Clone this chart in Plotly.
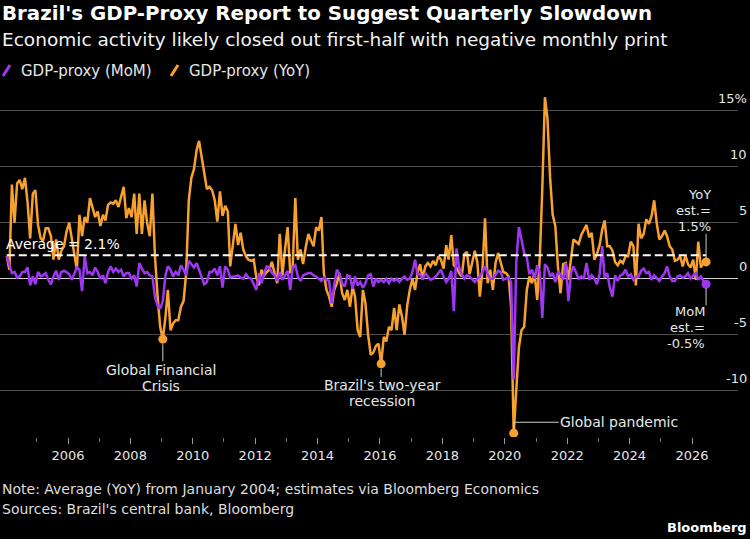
import plotly.graph_objects as go
import pandas as pd

# ---------------- text ----------------
title = "Brazil's GDP-Proxy Report to Suggest Quarterly Slowdown"
subtitle = "Economic activity likely closed out first-half with negative monthly print"
note = "Note: Average (YoY) from January 2004; estimates via Bloomberg Economics"
sources = "Sources: Brazil's central bank, Bloomberg"
mom_name = "GDP-proxy (MoM)"
yoy_name = "GDP-proxy (YoY)"

# ---------------- data ----------------
start_month = "2004-01-01"

yoy = [
    2.0, 0.8, 8.4, 5.0, 8.5, 8.8, 8.0, 9.0, 6.8, 3.6, 7.6, 7.9, 4.8, 3.6, 3.4, 4.5, 4.5, 3.8, 1.7, 3.5,
    1.7, 2.5, 2.9, 4.2, 5.0, 3.4, 2.0, 0.8, 5.7, 3.8, 5.5, 5.0, 7.2, 6.4, 5.5, 6.0, 4.7, 5.7, 5.2, 6.6,
    6.8, 6.7, 7.0, 6.4, 7.2, 8.2, 5.4, 6.3, 5.5, 7.6, 4.0, 7.6, 4.0, 7.0, 5.0, 3.8, 7.6, 2.0, -1.6, -4.3,
    -5.4, -3.4, -1.0, -4.6, -4.0,
    -3.7, -3.7, -2.5, -2.0, 0.5, 7.0, 9.0, 9.8, 11.5, 12.3, 10.9, 9.2, 8.0, 8.2, 7.9, 7.0, 5.1, 7.8, 5.6, 6.5,
    6.0, 1.1, 2.9, 4.9, 3.0, 4.1, 2.6, 2.0, 1.7, 1.6, 1.7, 0.1, -0.6, 0.8, 0.3, 0.6, 0.8, 1.5, 0.5, -0.4,
    4.0, 0.3, 2.6, 4.6, 0.5, 1.1, 7.2, 1.7, 2.6, 1.3, 2.8, 4.0, 3.4, 2.9, 4.6, 4.3, 5.5, 0.5, -1.0, -1.6,
    -2.5, -1.0, -0.4, 0.5, -1.3, -1.9, -1.0,
    -2.5, -0.7, -1.6, -4.6, -5.2, -1.0, -2.2, -5.0, -6.8, -6.6, -6.0, -5.8, -7.6, -5.2, -5.6, -4.3, -4.6, -2.6, -4.6, -2.3,
    -3.4, -5.0, -2.4, -1.0, 0.0, -1.0, 0.5, 1.3, 0.0, 1.1, 1.4, 1.1, 1.6, 1.2, 2.0, 1.7, 0.9, 3.0, 1.7, 3.9,
    1.2, 1.0, 0.5, 0.2, 2.2, 2.4, 0.4, 1.4, 2.5, 1.4, -1.6, 0.8, 5.4, -0.4, 0.8, -1.0, 1.4, 2.3, 1.4, 0.6,
    0.5, 0.2, -2.5, -13.8, -9.9, -6.1, -4.6,
    -4.3, -1.0, 0.2, -0.4, 0.5, -1.9, 2.0, 7.9, 16.2, 14.3, 9.0, 5.7, 4.7, 1.0, -1.3, 1.3, 1.4, -0.1, 1.6, 3.5,
    3.3, 3.1, 3.9, 4.4, 4.8, 3.7, 4.1, 1.7, 2.2, 3.0, 4.4, 5.2, 2.9, 2.9, 2.5, 1.5, 1.2, 1.6, 1.4, 2.0,
    2.0, 3.3, 2.9, -0.6, 4.9, 3.6, 4.0, 5.3, 4.9, 5.6, 7.0, 4.9, 3.5, 3.8, 4.3, 3.8, 2.9, 2.6, 1.6, 1.7,
    2.0, 1.1, 2.1, 1.3, 1.0, 1.7, -0.1, 3.3, 1.0, 1.4, 1.5,
]

mom = [
    2.0, 1.2, 0.5, 0.6, 0.1, 0.2, 0.6, 0.6, 1.0, -0.6, 0.2, -0.5, 0.6, 0.2, 0.3, 0.5, -0.1, -0.5, 0.2, 0.7,
    -0.1, 0.6, 0.7, 0.6, 0.4, -0.1, 0.4, 1.0, 0.8, -1.1, 2.0, 0.5, 0.6, 0.3, 1.0, 0.6, 0.0, 0.3, -0.4, 0.6,
    1.1, 0.6, 0.9, 0.6, 0.8, 0.2, 0.5, 0.5, 0.0, 0.3, -0.7, 1.4, 0.9, 0.5, 0.6, 0.3, 0.2, -1.6, -2.4, -2.7,
    -2.0, 0.3, 1.1, 0.8, 0.2, 0.6,
    0.3, 1.2, 0.8, 0.3, 1.6, 1.3, 1.0, 1.4, 0.8, 0.2, -0.5, -0.3, 0.6, 0.6, 0.9, 0.3, 1.1, -0.8, 1.1, 0.8,
    0.1, 0.2, 0.2, 0.3, 0.1, 0.0, 0.4, 0.1, 0.0, -0.5, -1.0, 0.5, -0.4, 0.5, 1.1, 1.0, 0.5, 0.3, -0.2, 0.6,
    -0.1, 0.3, 0.7, -1.0, 1.0, 1.2, 0.2, -0.2, 0.3, 0.4, 0.5, 0.5, 0.3, 0.2, 0.0, -0.2, 0.1, -0.1, -0.2, -2.2,
    -0.5, 0.8, 0.4, -0.4, -0.7, 0.3, 0.2,
    -0.9, 0.2, -0.6, -0.3, -0.8, -0.4, 0.3, 0.4, -0.7, 0.0, -0.3, -0.1, -0.3, 0.0, -0.4, 0.0, -0.2, 0.0, -0.3, 0.0,
    0.2, -0.1, 0.0, 0.6, 1.7, 0.4, 0.4, -0.1, 0.5, 0.2, -0.1, 0.0, 0.2, 0.5, 0.8, 0.2, -0.3, 0.0, 0.7, -2.9,
    2.7, 1.0, 0.4, 0.0, 0.3, 0.2, -0.1, -0.3, 0.0, 0.2, 0.6, 1.1, 0.4, 0.0, 0.0, 0.4, 0.7, 0.6, -0.1, 0.0,
    0.1, -0.3, -9.0, 1.5, 4.6, 3.5, 2.3,
    1.9, 0.4, 0.8, 0.0, 1.2, 0.5, -3.5, 1.3, 1.0, 0.2, 0.5, -0.3, 0.6, 0.4, -0.1, 1.4, -2.0, 0.5, 1.1, 0.5,
    0.0, 0.2, 0.0, 1.4, -0.1, 0.3, 0.0, -0.5, 0.4, 2.9, 0.1, 0.5, -0.8, -1.6, 0.3, -0.2, 0.3, 0.4, 0.8, 0.2,
    0.4, -0.1, 0.2, 0.2, 0.7, 0.9, 0.5, 0.6, -0.1, 0.3, 0.0, -0.2, 0.2, 0.5, 1.1, 0.2, -0.2, -0.2, 0.2, 0.3,
    0.1, 0.2, 0.5, 0.0, 0.3, 0.5, -0.1, 0.2, -0.2, -0.5,
]

yoy_average = 2.1

y_tick_values = [-10, -5, 0, 5, 10, 15]
y_tick_labels = ["-10", "-5", "0", "5", "10", "15%"]
x_tick_years = list(range(2006, 2027, 2))
x_minor_years = list(range(2005, 2026, 2))

# event call-outs: (text lines, month index in the series)
gfc_lines = ["Global Financial", "Crisis"]
gfc_idx = 60
recession_lines = ["Brazil's two-year", "recession"]
recession_idx = 144
pandemic_text = "Global pandemic"
pandemic_idx = 195

assert len(yoy) == len(mom) == 270

dates = pd.date_range(start_month, periods=len(yoy), freq="MS") + pd.Timedelta(days=14)

# ---------------- style ----------------
ORANGE = "#F9A12F"
PURPLE = "#9E37F2"
BG = "#000000"
GRID = "#4d4d4d"
TXT = "#e6e6e6"
FONT = "DejaVu Sans"

W, H = 750, 539
ML, MR, MT, MB = 0, 12, 90, 102
PW, PH = W - ML - MR, H - MT - MB
px_per_unit = 11.2
zero_from_top = 188.7
y_max = zero_from_top / px_per_unit
y_min = y_max - PH / px_per_unit

px_per_year = 31.2
x_2006 = 68.0
x_start = pd.Timestamp("2006-01-01") - pd.Timedelta(days=x_2006 / px_per_year * 365.25)
x_end = pd.Timestamp("2006-01-01") + pd.Timedelta(days=(PW - x_2006) / px_per_year * 365.25)


def pxx(x):
    return (x - ML) / PW


def pxy(y):
    return (H - MB - y) / PH


fig = go.Figure()

fig.add_trace(go.Scatter(x=dates, y=yoy, mode="lines", name=yoy_name,
                         line=dict(color=ORANGE, width=2.5), hoverinfo="skip"))
fig.add_trace(go.Scatter(x=dates, y=mom, mode="lines", name=mom_name,
                         line=dict(color=PURPLE, width=2.5), hoverinfo="skip"))
fig.add_trace(go.Scatter(x=[dates[0], dates[-1]], y=[yoy_average, yoy_average], mode="lines",
                         line=dict(color="#ffffff", width=2, dash="8px,4px"), hoverinfo="skip"))

# highlighted points
fig.add_trace(go.Scatter(
    x=[dates[gfc_idx], dates[recession_idx], dates[pandemic_idx], dates[-1]],
    y=[yoy[gfc_idx], yoy[recession_idx], yoy[pandemic_idx], yoy[-1]],
    mode="markers", marker=dict(color=ORANGE, size=9), hoverinfo="skip"))
fig.add_trace(go.Scatter(x=[dates[-1]], y=[mom[-1]], mode="markers",
                         marker=dict(color=PURPLE, size=9), hoverinfo="skip"))

annotations = []
shapes = []


def txt(text, x, y, xref="paper", yref="paper", size=14, color=TXT, xanchor="left",
        yanchor="middle", xshift=0, yshift=0, bold=False):
    annotations.append(dict(
        text=f"<b>{text}</b>" if bold else text, x=x, y=y, xref=xref, yref=yref,
        showarrow=False, xanchor=xanchor, yanchor=yanchor, xshift=xshift, yshift=yshift,
        font=dict(family=FONT, size=size, color=color)))


def connector(idx, series, y0, y1, x0=0, x1=0):
    shapes.append(dict(type="line", xref="x", yref="y",
                       xsizemode="pixel", xanchor=dates[idx], x0=x0, x1=x1,
                       ysizemode="pixel", yanchor=series[idx], y0=y0, y1=y1,
                       line=dict(color="#cccccc", width=1)))


# titles
txt(title, pxx(0), pxy(14), size=19.8, color="#ffffff", bold=True)
txt(subtitle, pxx(0), pxy(39), size=18.5, color="#f2f2f2")

# legend
shapes.append(dict(type="line", xref="paper", yref="paper", x0=pxx(3), y0=pxy(76), x1=pxx(10), y1=pxy(65),
                   line=dict(color=PURPLE, width=3)))
txt(mom_name, pxx(19), pxy(71), size=15)
shapes.append(dict(type="line", xref="paper", yref="paper", x0=pxx(171), y0=pxy(76), x1=pxx(178), y1=pxy(65),
                   line=dict(color=ORANGE, width=3)))
txt(yoy_name, pxx(187), pxy(71), size=15)

# y tick labels on the right, sitting above the gridlines
for v, lab in zip(y_tick_values, y_tick_labels):
    txt(lab, pxx(749), v, yref="y", xanchor="right", yanchor="bottom", yshift=3, size=13)

# average label
txt(f"Average = {yoy_average}%", dates[0], yoy_average, xref="x", yref="y",
    yanchor="bottom", xshift=-3, yshift=1, color="#ffffff")

# GFC
connector(gfc_idx, yoy, -5, -22)
txt(gfc_lines[0], dates[gfc_idx], yoy[gfc_idx], xref="x", yref="y", xanchor="center", yshift=-31, xshift=-2)
txt(gfc_lines[1], dates[gfc_idx], yoy[gfc_idx], xref="x", yref="y", xanchor="center", yshift=-47, xshift=-2)

# recession
connector(recession_idx, yoy, -5, -13)
txt(recession_lines[0], dates[recession_idx], yoy[recession_idx], xref="x", yref="y", xanchor="center", yshift=-21, xshift=1)
txt(recession_lines[1], dates[recession_idx], yoy[recession_idx], xref="x", yref="y", xanchor="center", yshift=-37, xshift=1)

# pandemic
connector(pandemic_idx, yoy, 4, 11)
connector(pandemic_idx, yoy, 11, 11, 0, 45)
txt(pandemic_text, dates[pandemic_idx], yoy[pandemic_idx], xref="x", yref="y", xanchor="left", yshift=11, xshift=44)

# end estimates
connector(len(yoy) - 1, yoy, 4, 28)
for line, dy in zip(["YoY", "est.=", f"{yoy[-1]:.1f}%"], [67, 51, 35]):
    txt(line, dates[-1], yoy[-1], xref="x", yref="y", xanchor="right", yshift=dy, xshift=7, size=13)
connector(len(mom) - 1, mom, -4, -21)
for line, dy in zip(["MoM", "est.=", f"{mom[-1]:.1f}%"], [-27, -43, -59]):
    txt(line, dates[-1], mom[-1], xref="x", yref="y", xanchor="right", yshift=dy, xshift=1, size=13)

# footer
txt(note, pxx(0), pxy(489), size=14, color="#dddddd")
txt(sources, pxx(0), pxy(509), size=14, color="#dddddd")
txt("Bloomberg", pxx(749), pxy(527), size=13, color="#ffffff", xanchor="right", bold=True)

fig.update_layout(
    width=W, height=H,
    margin=dict(l=ML, r=MR, t=MT, b=MB, pad=0),
    paper_bgcolor=BG, plot_bgcolor=BG,
    showlegend=False,
    font=dict(family=FONT, color=TXT, size=13),
    annotations=annotations, shapes=shapes,
    xaxis=dict(type="date", range=[x_start, x_end], showgrid=False, zeroline=False, showline=False,
               ticks="outside", ticklen=6, tickwidth=1, tickcolor="#9a9a9a",
               tickvals=[f"{y}-01-01" for y in x_tick_years], ticktext=[str(y) for y in x_tick_years],
               tickfont=dict(family=FONT, size=13, color=TXT),
               minor=dict(ticks="outside", ticklen=4, tickcolor="#777777",
                          tickvals=[f"{y}-01-01" for y in x_minor_years], showgrid=False)),
    yaxis=dict(range=[y_min, y_max], showticklabels=False, tickvals=y_tick_values,
               showgrid=True, gridcolor=GRID, gridwidth=1,
               zeroline=True, zerolinecolor="#d0d0d0", zerolinewidth=1, showline=False, ticks=""),
)

fig.write_html("out.html",
               config={"displayModeBar": False, "staticPlot": True},
               post_script="document.body.style.margin='0px';document.body.style.background='#000';")
